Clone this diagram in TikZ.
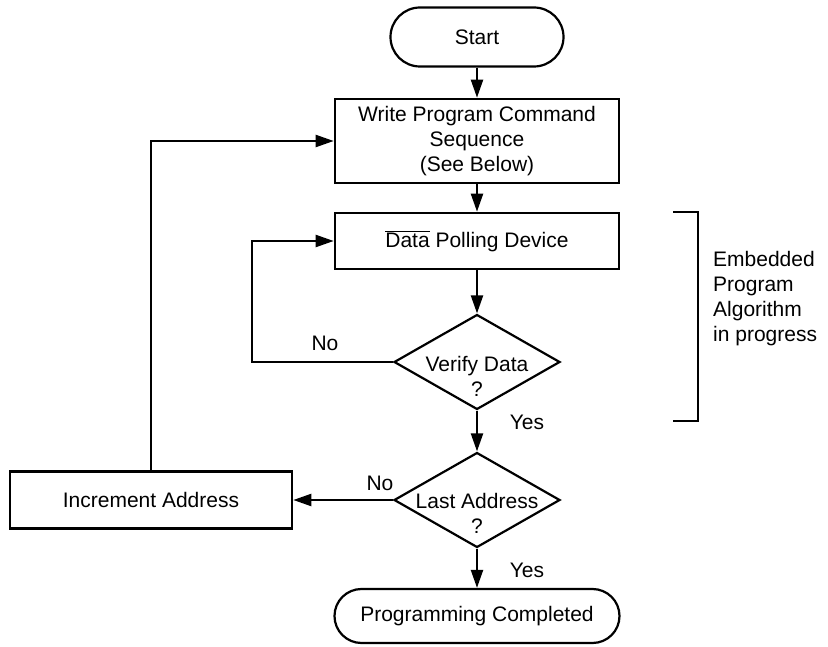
\documentclass[tikz,border=0pt]{standalone}
\usepackage{fontspec}
\setmainfont{Liberation Sans}
\usetikzlibrary{shapes.geometric,shapes.misc,arrows.meta}
\begin{document}
\begin{tikzpicture}[x=1pt,y=-1pt,
  every node/.style={font=\fontsize{21}{25}\selectfont},
  box/.style={draw,line width=2.6pt,rectangle,inner sep=0pt,align=center},
  term/.style={draw,line width=2.2pt,rounded rectangle,inner sep=0pt,align=center},
  dia/.style={draw,line width=2.2pt,diamond,inner sep=0pt},
  lbl/.style={inner sep=0pt,align=center},
  arr/.style={line width=2.2pt,-{Triangle[length=18pt,width=12pt]}},
  ln/.style={line width=2.2pt}]
\useasboundingbox (0,0) rectangle (828,647);
\node[term,minimum width=173pt,minimum height=59pt] (start) at (477,37) {Start};
\node[box,minimum width=284pt,minimum height=84pt] (write) at (477,141) {Write Program Command\\Sequence\\(See Below)};
\node[box,minimum width=284pt,minimum height=56pt] (poll) at (477,241) {$\overline{\mbox{Data}}$ Polling Device};
\node[dia,minimum width=166pt,minimum height=95pt] (verify) at (477,362) {};
\node[lbl] (verifyt) at (477,376) {Verify Data\\?};
\node[dia,minimum width=166pt,minimum height=95pt] (last) at (477,500) {};
\node[lbl] (lastt) at (477,513) {Last Address\\?};
\node[box,minimum width=282pt,minimum height=57pt] (incr) at (151,500) {Increment Address};
\node[term,minimum width=285pt,minimum height=54pt] (done) at (477,616) {Programming Completed};
\node[lbl] (no1) at (325,343) {No};
\node[lbl] (yes1) at (527,422) {Yes};
\node[lbl] (no2) at (380,483) {No};
\node[lbl] (yes2) at (527,570) {Yes};
\coordinate (loopx) at (252,0);
\draw[arr] (start.south) -- (write.north);
\draw[arr] (write.south) -- (poll.north);
\draw[arr] (poll.south) -- (verify.north);
\draw[arr] (verify.west) -- (verify.west -| loopx) |- (poll.west);
\draw[arr] (verify.south) -- (last.north);
\draw[arr] (last.west) -- (incr.east);
\draw[arr] (incr.north) |- (write.west);
\draw[arr] (last.south) -- (done.north);
\coordinate (bt) at (673,212);
\coordinate (bb) at (673,421);
\draw[line width=2.6pt] (bt) -- ++(25,0) -- ++(0,209) -- (bb);
\node[lbl,align=left,anchor=west] (emb) at (713,299) {Embedded\\Program\\Algorithm\\in progress};
\end{tikzpicture}
\end{document}
